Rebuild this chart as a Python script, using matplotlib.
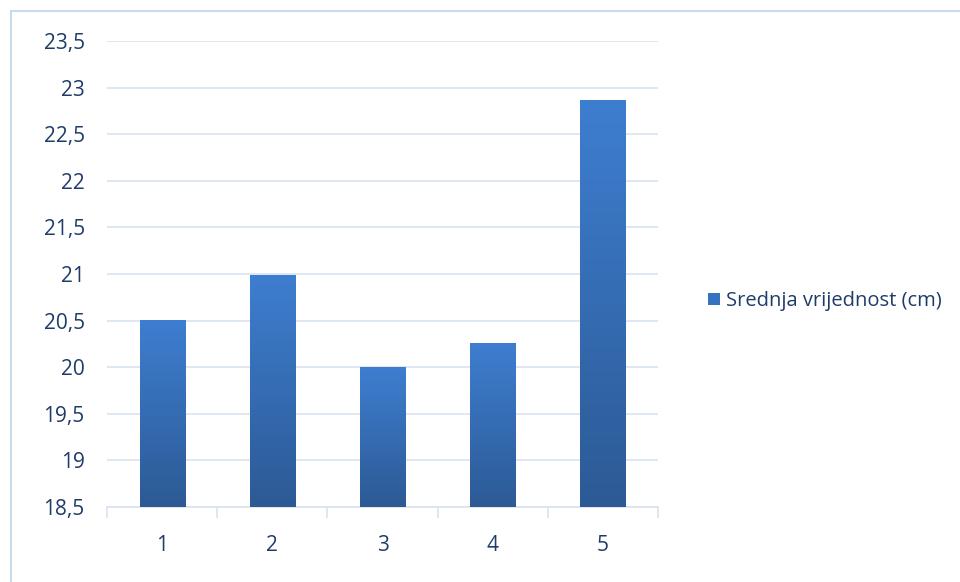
import matplotlib
matplotlib.use("Agg")
import matplotlib.pyplot as plt
import numpy as np
from matplotlib.patches import Rectangle, Patch
from matplotlib.colors import LinearSegmentedColormap

categories = ["1", "2", "3", "4", "5"]
values = [20.5, 20.98, 20.0, 20.25, 22.86]
series_name = "Srednja vrijednost (cm)"
yticks = [18.5, 19, 19.5, 20, 20.5, 21, 21.5, 22, 22.5, 23, 23.5]

plt.rcParams['font.family'] = ['Open Sans', 'DejaVu Sans']
text_color = "#1F3C69"
grid_color = "#D9E3F1"

fig = plt.figure(figsize=(9.6, 5.82), dpi=100)
W, H = 960, 582
ax = fig.add_axes([107 / W, 1 - 507 / H, (658 - 107) / W, (507 - 41) / H])

x = np.arange(len(categories))
bars = ax.bar(x, values, width=0.41, color="#3572C0", zorder=2)

cmap = LinearSegmentedColormap.from_list("g", ["#2C5A95", "#3E7ED0"])
grad = np.linspace(0, 1, 256).reshape(-1, 1)
for b in bars:
    x0, w = b.get_x(), b.get_width()
    top = b.get_height()
    ax.imshow(grad, extent=(x0, x0 + w, 18.5, top), origin="lower", cmap=cmap,
              aspect="auto", zorder=3)
    b.set_alpha(0)
ax.set_xlim(-0.5, len(categories) - 0.5)
ax.set_ylim(18.5, 23.5)

ax.set_yticks(yticks)
ax.set_yticklabels([("%g" % v).replace(".", ",") for v in yticks])
ax.set_xticks(x)
ax.set_xticklabels(categories)
ax.grid(axis="y", color=grid_color, linewidth=1.2, zorder=0)
ax.set_axisbelow(True)
for s in ["top", "right", "left"]:
    ax.spines[s].set_visible(False)
ax.spines["bottom"].set_color(grid_color)
ax.spines["bottom"].set_linewidth(1.2)
ax.tick_params(axis="y", length=0, pad=16, labelsize=15, labelcolor=text_color)
ax.tick_params(axis="x", length=0, pad=20, labelsize=15, labelcolor=text_color)
ax.set_xticks(np.arange(-0.5, len(categories)), minor=True)
ax.tick_params(axis="x", which="minor", length=8, color=grid_color, width=1.2)

leg = fig.legend(handles=[Patch(facecolor="#3572C0", edgecolor="none")], labels=[series_name],
                 loc="center left", bbox_to_anchor=(698 / W, 1 - 301 / H), frameon=False,
                 fontsize=14.5, handlelength=0.6, handleheight=0.6, handletextpad=0.3,
                 borderpad=0)
for t in leg.get_texts():
    t.set_color(text_color)

fig.patches.append(Rectangle((11 / W, -0.1), 1.2, 1 - 11 / H + 0.1, transform=fig.transFigure,
                             fill=False, edgecolor="#C9D9EE", linewidth=1.5))

fig.savefig("out.png", dpi=100)
